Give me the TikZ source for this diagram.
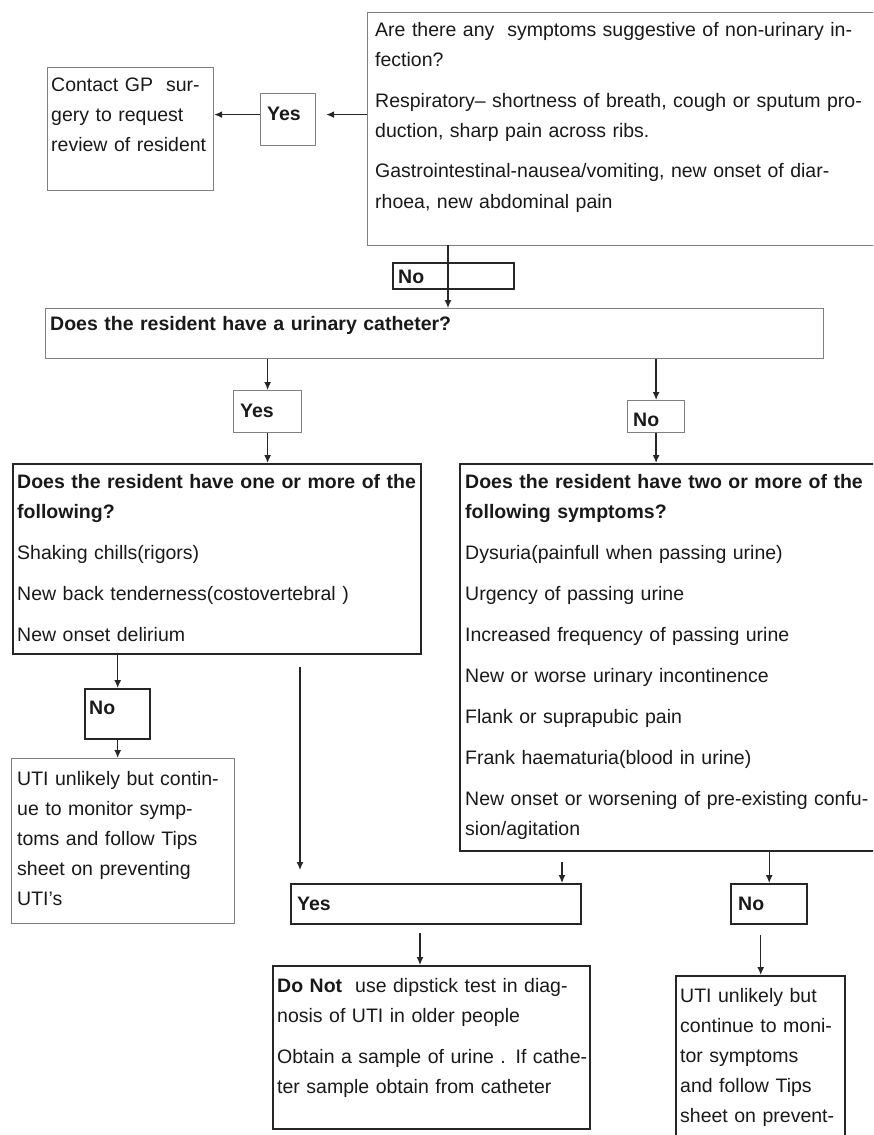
\documentclass[tikz,border=0pt]{standalone}
\usepackage{fontspec}
\setmainfont{Liberation Sans}
\usetikzlibrary{arrows.meta,positioning,calc}

\begin{document}
\begin{tikzpicture}[x=1pt,y=-1pt,
  thinbox/.style={draw=black!50, line width=1.2pt, anchor=north west, inner sep=0pt},
  thickbox/.style={draw=black!85, line width=2.4pt, anchor=north west, inner sep=0pt},
  txt/.style={anchor=base west, align=left, text width=600pt, inner sep=0pt,
    font=\fontsize{19.5}{30}\selectfont, text=black!90},
  arr/.style={-{Latex[length=8pt,width=7pt]}, line width=1.3pt, draw=black!85}]
\useasboundingbox (0,0) rectangle (873,1135);
\clip (0,0) rectangle (873,1135);

% --- top: non-urinary infection ---
\node[thinbox, minimum width=520pt, minimum height=233pt] (nonuri) at (367,12) {};
\node[txt] (nonuriT) at (375,36) {Are there any\ \ symptoms suggestive of non-urinary in-\\
  fection?\\[11pt]
  Respiratory– shortness of breath, cough or sputum pro-\\
  duction, sharp pain across ribs.\\[11pt]
  Gastrointestinal-nausea/vomiting, new onset of diar-\\
  rhoea, new abdominal pain};
\node[thinbox, minimum width=166pt, minimum height=123pt] (contact) at (47,67) {};
\node[txt] (contactT) at (51,91) {Contact GP\ \ sur-\\gery to request\\review of resident};
\node[thinbox, minimum width=55pt, minimum height=52pt] (yesA) at (260,93) {};
\node[txt] (yesAT) at (267,120) {\textbf{Yes}};
\node[thickbox, minimum width=121pt, minimum height=26pt] (noA) at (392,262) {};
\node[txt] (noAT) at (398,283) {\textbf{No}};

% --- catheter question ---
\node[thinbox, minimum width=778pt, minimum height=50pt] (cath) at (45,308) {};
\node[txt] (cathT) at (50,330) {\textbf{Does the resident have a urinary catheter?}};
\node[thinbox, minimum width=68pt, minimum height=42pt] (yesB) at (233,390) {};
\node[txt] (yesBT) at (240,417) {\textbf{Yes}};
\node[thinbox, minimum width=57pt, minimum height=32pt] (noB) at (627,400) {};
\node[txt] (noBT) at (633,426) {\textbf{No}};

% --- catheter: yes ---
\node[thickbox, minimum width=408pt, minimum height=190pt] (leftq) at (12,463) {};
\node[txt] (leftqT) at (17,488) {\textbf{Does the resident have one or more of the}\\
  \textbf{following?}\\[11pt]
  Shaking chills(rigors)\\[11pt]
  New back tenderness(costovertebral )\\[11pt]
  New onset delirium};
\node[thickbox, minimum width=65pt, minimum height=50pt] (noC) at (84,688) {};
\node[txt] (noCT) at (89,714) {\textbf{No}};
\node[thinbox, minimum width=223pt, minimum height=165pt] (utiL) at (11,758) {};
\node[txt] (utiLT) at (17,785) {UTI unlikely but contin-\\ue to monitor symp-\\
  toms and follow Tips\\sheet on preventing\\UTI's};

% --- catheter: no ---
\node[thickbox, minimum width=430pt, minimum height=387pt] (rightq) at (459,463) {};
\node[txt] (rightqT) at (465,488) {\textbf{Does the resident have two or more of the}\\
  \textbf{following symptoms?}\\[11pt]
  Dysuria(painfull when passing urine)\\[11pt]
  Urgency of passing urine\\[11pt]
  Increased frequency of passing urine\\[11pt]
  New or worse urinary incontinence\\[11pt]
  Flank or suprapubic pain\\[11pt]
  Frank haematuria(blood in urine)\\[11pt]
  New onset or worsening of pre-existing confu-\\
  sion/agitation};

% --- outcomes ---
\node[thickbox, minimum width=290pt, minimum height=40pt] (yesD) at (290,883) {};
\node[txt] (yesDT) at (297,910) {\textbf{Yes}};
\node[thickbox, minimum width=76pt, minimum height=40pt] (noE) at (730,883) {};
\node[txt] (noET) at (738,910) {\textbf{No}};
\node[thickbox, minimum width=317pt, minimum height=163pt] (donot) at (272,965) {};
\node[txt] (donotT) at (277,992) {\textbf{Do Not}\ \ use dipstick test in diag-\\
  nosis of UTI in older people\\[11pt]
  Obtain a sample of urine . If cathe-\\
  ter sample obtain from catheter};
\node[thickbox, minimum width=169pt, minimum height=180pt] (utiR) at (675,975) {};
\node[txt] (utiRT) at (680,1002) {UTI unlikely but\\continue to moni-\\tor symptoms\\
  and follow Tips\\sheet on prevent-};

% connectors
\draw[arr, shorten >=10pt, transform canvas={yshift=5pt}] (nonuri.west |- yesA.east) -- (yesA.east);
\draw[arr, transform canvas={yshift=5pt}] (yesA.west) -- (yesA.west -| contact.east);
\coordinate (noDrop) at (448,245);
\draw[arr] (noDrop) -- (noDrop |- cath.north);
\draw[arr] (yesB.north |- cath.south) -- (yesB.north);
\draw[arr] (noB.north |- cath.south) -- (noB.north);
\draw[arr] (yesB.south) -- (yesB.south |- leftq.north);
\draw[arr] (noB.south) -- (noB.south |- rightq.north);
\draw[arr] (noC.north |- leftq.south) -- (noC.north);
\draw[arr] (noC.south) -- (noC.south |- utiL.north);
\coordinate (catDrop) at (300,667);
\draw[arr, shorten >=13pt] (catDrop) -- (catDrop |- yesD.north);
\coordinate (sympDrop) at (562,862);
\draw[arr] (sympDrop) -- (sympDrop |- yesD.north);
\draw[arr] (noE.north |- rightq.south) -- (noE.north);
\coordinate (dipDrop) at (420,933);
\draw[arr] (dipDrop) -- (dipDrop |- donot.north);
\draw[arr, shorten <=10pt] (noE.south -| utiR.north) -- (utiR.north);
\end{tikzpicture}
\end{document}
